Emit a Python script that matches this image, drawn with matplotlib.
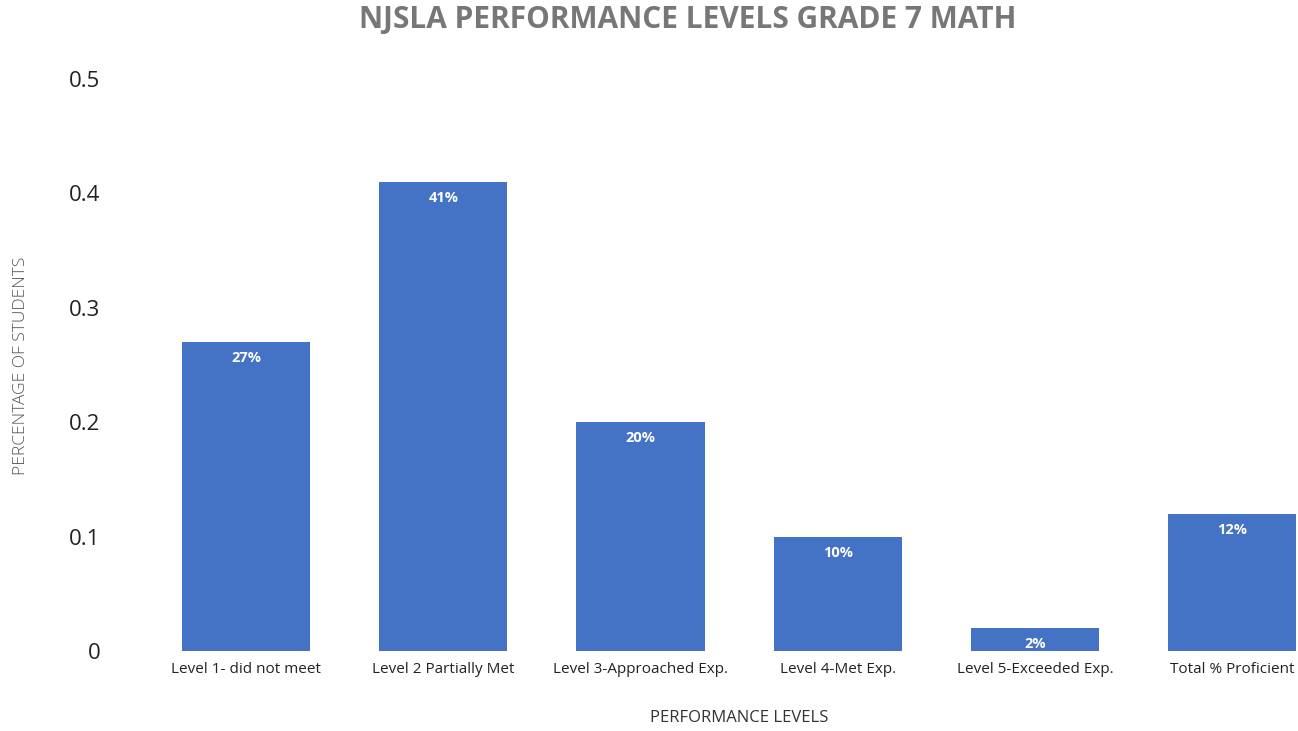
import matplotlib
matplotlib.use("Agg")
import matplotlib.pyplot as plt

categories = ["Level 1- did not meet", "Level 2 Partially Met", "Level 3-Approached Exp.",
              "Level 4-Met Exp.", "Level 5-Exceeded Exp.", "Total % Proficient"]
values = [0.27, 0.41, 0.20, 0.10, 0.02, 0.12]
labels = ["27%", "41%", "20%", "10%", "2%", "12%"]
yticks = [0, 0.1, 0.2, 0.3, 0.4, 0.5]
yticklabels = ["0", "0.1", "0.2", "0.3", "0.4", "0.5"]

plt.rcParams['font.family'] = ['Open Sans', 'DejaVu Sans']

fig = plt.figure(figsize=(12.98, 7.31), dpi=100)
ax = fig.add_axes([0.1136, 0.1094, 0.9116, 0.7826])

x = range(len(categories))
bars = ax.bar(x, values, width=0.65, color="#4472C4")

# value labels inside bar tops
for b, lab in zip(bars, labels):
    ax.annotate(lab, (b.get_x() + b.get_width() / 2, b.get_height()),
                xytext=(0, -6.5), textcoords="offset points",
                ha="center", va="top", color="white", fontsize=10.5, fontweight="bold")

ax.set_xlim(-0.5, 5.5)
ax.set_ylim(0, 0.5)
ax.set_yticks(yticks)
ax.set_yticklabels(yticklabels, fontsize=16, color="#222222")
ax.tick_params(axis="y", length=0, pad=34)
ax.set_xticks(list(x))
ax.set_xticklabels(categories, fontsize=11, color="#222222")
ax.tick_params(axis="x", length=0, pad=8)
for s in ax.spines.values():
    s.set_visible(False)

ax.set_xlabel("PERFORMANCE LEVELS", fontsize=12, color="#333333", labelpad=24)
fig.text(0.016, 0.5, "PERCENTAGE OF STUDENTS", rotation=90, ha="center", va="center",
         fontsize=12.5, color="#555555", fontweight="light")
fig.text(0.53, 0.973, "NJSLA PERFORMANCE LEVELS GRADE 7 MATH", ha="center", va="center",
         fontsize=21.5, fontweight="bold", color="#777777")

fig.savefig("out.png", dpi=100)
